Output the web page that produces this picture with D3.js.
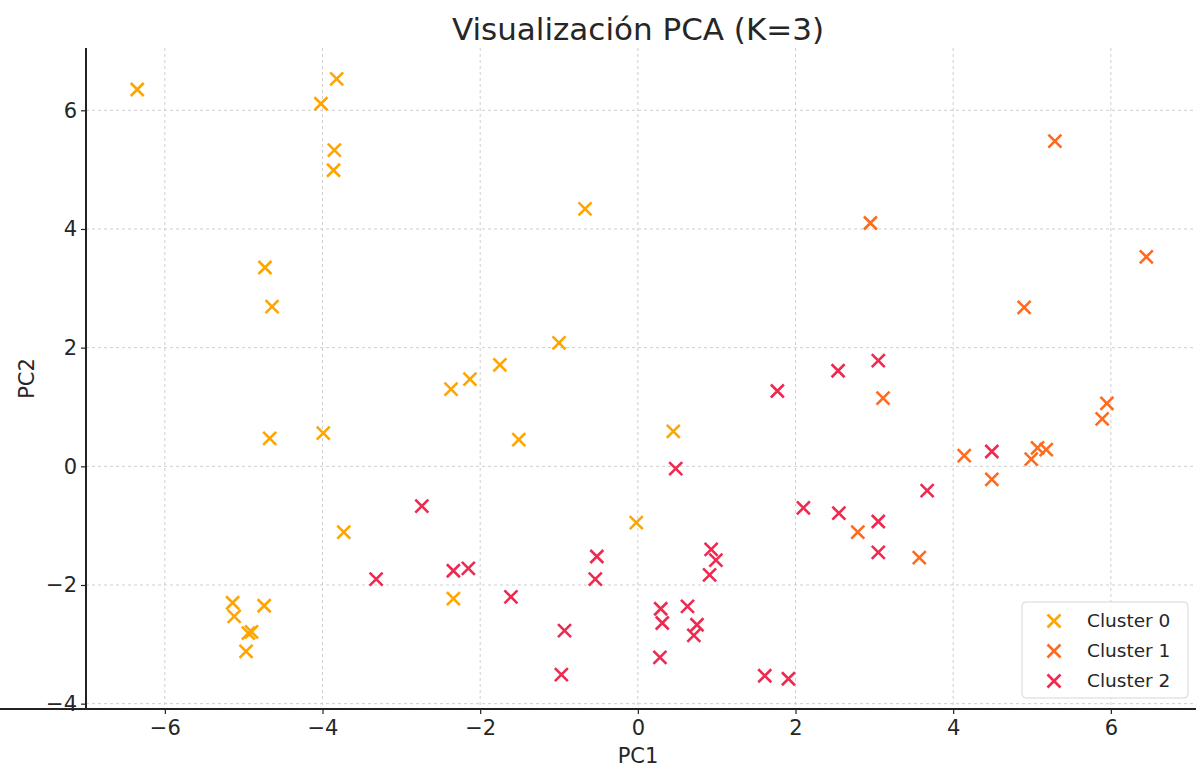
<!DOCTYPE html>
<html>
<head>
<meta charset="utf-8">
<script src="https://cdn.jsdelivr.net/npm/d3@7"></script>
<style>
  html, body { margin: 0; padding: 0; background: #fff; }
  svg { display: block; font-family: "DejaVu Sans", sans-serif; }
</style>
</head>
<body>
<svg id="chart" width="1196" height="769"></svg>
<script>
// PCA projection (PC1, PC2) of each sample, grouped by K-means cluster
const cluster0X = [-6.35, -4.02, -3.82, -3.85, -3.86, -0.67, -4.73, -4.64, -1.00, -1.75, -2.13, -2.37, -4.67, -3.99, -1.51, 0.45, -0.02, -3.73, -2.34, -5.14, -5.12, -4.74, -4.94, -4.90, -4.97];
const cluster0Y = [6.35, 6.11, 6.53, 5.33, 4.99, 4.34, 3.35, 2.69, 2.08, 1.71, 1.47, 1.30, 0.47, 0.56, 0.45, 0.59, -0.95, -1.11, -2.23, -2.30, -2.53, -2.35, -2.81, -2.79, -3.12];

const cluster1X = [5.29, 2.95, 6.45, 4.90, 3.11, 5.95, 5.89, 4.14, 5.07, 5.18, 4.99, 4.49, 2.79, 3.57];
const cluster1Y = [5.48, 4.10, 3.53, 2.68, 1.15, 1.06, 0.80, 0.18, 0.31, 0.28, 0.12, -0.22, -1.11, -1.54];

const cluster2X = [3.05, 2.54, 1.77, 0.48, 4.49, 3.67, 2.10, 2.55, 3.05, 3.05, -2.74, -3.32, -2.34, -2.15, -1.61, -0.93, -0.97, -0.52, -0.54, 0.93, 0.99, 0.91, 0.29, 0.31, 0.63, 0.75, 0.71, 0.28, 1.61, 1.91];
const cluster2Y = [1.78, 1.61, 1.27, -0.04, 0.25, -0.41, -0.70, -0.79, -0.93, -1.45, -0.67, -1.90, -1.76, -1.72, -2.20, -2.77, -3.51, -1.52, -1.90, -1.40, -1.58, -1.83, -2.40, -2.64, -2.36, -2.67, -2.85, -3.22, -3.53, -3.58];

const clusterNames = ["Cluster 0", "Cluster 1", "Cluster 2"];
const clusterColors = ["#ffa500", "#ff6a1c", "#ee2a50"];

const xTicks = [-6, -4, -2, 0, 2, 4, 6];
const yTicks = [-4, -2, 0, 2, 4, 6];

const series = [
  { name: clusterNames[0], color: clusterColors[0], xs: cluster0X, ys: cluster0Y },
  { name: clusterNames[1], color: clusterColors[1], xs: cluster1X, ys: cluster1Y },
  { name: clusterNames[2], color: clusterColors[2], xs: cluster2X, ys: cluster2Y }
];

const svg = d3.select("#chart");
const plot = { left: 86, right: 1196, top: 48, bottom: 709 };

const x = d3.scaleLinear().domain([-7.0, 7.08]).range([plot.left, plot.right]);
const y = d3.scaleLinear().domain([-4.09, 7.05]).range([plot.bottom, plot.top]);

const textColor = "#262626";
const fmt = d => d < 0 ? "\u2212" + Math.abs(d) : d;

// grid
const grid = svg.append("g").attr("class", "grid");
grid.selectAll("line.gx").data(xTicks).join("line")
  .attr("class", "gx")
  .attr("x1", d => x(d)).attr("x2", d => x(d))
  .attr("y1", plot.top).attr("y2", plot.bottom)
  .attr("stroke", "#cfcfcf").attr("stroke-width", 1).attr("stroke-dasharray", "3,3");
grid.selectAll("line.gy").data(yTicks).join("line")
  .attr("class", "gy")
  .attr("x1", plot.left).attr("x2", plot.right)
  .attr("y1", d => y(d)).attr("y2", d => y(d))
  .attr("stroke", "#cfcfcf").attr("stroke-width", 1).attr("stroke-dasharray", "3,3");

// axes
const xAxis = svg.append("g")
  .attr("transform", `translate(0,${plot.bottom})`)
  .call(d3.axisBottom(x).tickValues(xTicks).tickSize(5).tickPadding(4).tickFormat(fmt));
const yAxis = svg.append("g")
  .attr("transform", `translate(${plot.left},0)`)
  .call(d3.axisLeft(y).tickValues(yTicks).tickSize(5).tickPadding(4).tickFormat(fmt));

[xAxis, yAxis].forEach(a => {
  a.select(".domain").attr("stroke", "#222").attr("stroke-width", 2);
  a.selectAll(".tick line").attr("stroke", "#222").attr("stroke-width", 1.2);
  a.selectAll(".tick text").attr("fill", textColor).style("font-size", "21px")
    .style("font-family", "'DejaVu Sans', sans-serif");
});
// spines span the full plot area
yAxis.select(".domain").attr("d", `M0,${plot.top}V${plot.bottom}`);
xAxis.select(".domain").attr("d", `M0,0H${plot.right}`);
xAxis.selectAll(".tick text").attr("dy", "0.8em");

// x-shaped markers
const markerHalf = 6.5;
const xPath = `M${-markerHalf},${-markerHalf}L${markerHalf},${markerHalf}M${-markerHalf},${markerHalf}L${markerHalf},${-markerHalf}`;

series.forEach(s => {
  const pts = s.xs.map((v, i) => [v, s.ys[i]]);
  svg.append("g").selectAll("path").data(pts).join("path")
    .attr("transform", d => `translate(${x(d[0])},${y(d[1])})`)
    .attr("d", xPath)
    .attr("fill", "none")
    .attr("stroke", s.color)
    .attr("stroke-width", 2.6);
});

// titles
svg.append("text")
  .attr("x", 638).attr("y", 40)
  .attr("text-anchor", "middle")
  .attr("fill", textColor)
  .style("font-size", "31px")
  .text("Visualización PCA (K=3)");

svg.append("text")
  .attr("x", 638).attr("y", 763)
  .attr("text-anchor", "middle")
  .attr("fill", textColor)
  .style("font-size", "21px")
  .text("PC1");

svg.append("text")
  .attr("transform", `translate(34,${(plot.top + plot.bottom) / 2}) rotate(-90)`)
  .attr("text-anchor", "middle")
  .attr("fill", textColor)
  .style("font-size", "21px")
  .text("PC2");

// legend
const legend = svg.append("g").attr("transform", "translate(1022,602)");
legend.append("rect")
  .attr("width", 166).attr("height", 96)
  .attr("rx", 4).attr("ry", 4)
  .attr("fill", "rgba(255,255,255,0.85)")
  .attr("stroke", "#d6d6d6").attr("stroke-width", 1);
const rows = legend.selectAll("g.row").data(series).join("g")
  .attr("class", "row")
  .attr("transform", (d, i) => `translate(0,${19 + i * 30})`);
rows.append("path")
  .attr("transform", "translate(32,0)")
  .attr("d", xPath)
  .attr("fill", "none")
  .attr("stroke", d => d.color)
  .attr("stroke-width", 2.6);
rows.append("text")
  .attr("x", 65).attr("y", 0).attr("dy", "0.35em")
  .attr("fill", textColor)
  .style("font-size", "18.5px")
  .text(d => d.name);
</script>
</body>
</html>
